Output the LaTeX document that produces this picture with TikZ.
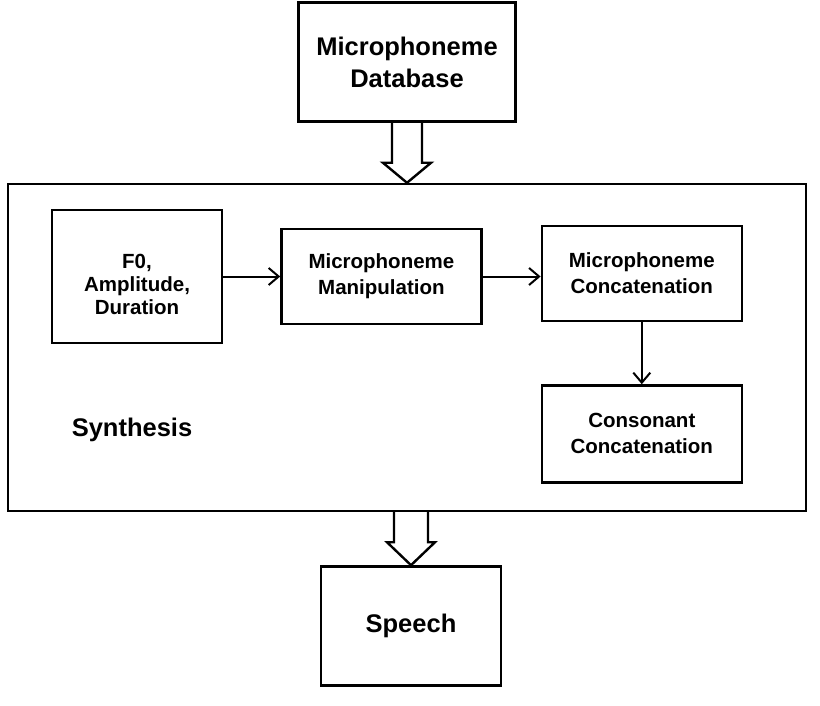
\documentclass[tikz,border=0pt]{standalone}
\usepackage{fontspec}
\setmainfont{Liberation Sans}
\usetikzlibrary{positioning,arrows.meta,calc}

\begin{document}
\begin{tikzpicture}[x=1pt,y=1pt]
		\tikzstyle{bigblock} = [rectangle, draw, line width = 2.4pt, align = center, inner sep = 0pt, font = \fontsize{25.5}{32}\selectfont\bfseries];
		\tikzstyle{subblock} = [rectangle, draw, line width = 2.4pt, align = center, inner sep = 0pt, minimum width = 200pt, minimum height = 95pt, font = \fontsize{20.5}{26}\selectfont\bfseries];
		\tikzstyle{flowpath} = [draw, line width = 2pt, -{Straight Barb[length = 10pt, width = 17pt, line width = 2pt]}];
		\tikzstyle{hollowarrow} = [draw, line width = 2.4pt, line join = miter];
		\useasboundingbox (0,0) rectangle (820,-706);
		\node (synth) at (407,-347.5) [bigblock, minimum width = 798pt, minimum height = 327pt] {};
		\node (db) [bigblock, above=60pt of synth, minimum width = 217pt, minimum height = 119pt] {Microphoneme\\Database};
		\node (speech) [bigblock, below=53pt of synth, xshift = 4pt, minimum width = 180pt, minimum height = 119pt] {Speech};
		\node (synthlabel) at (132,-430) [font = \fontsize{25.5}{32}\selectfont\bfseries] {Synthesis};
		\node (f0) at (137,-276.5) [subblock, minimum width = 170pt, minimum height = 133pt, text height = 77pt, font = \fontsize{20.5}{23}\selectfont\bfseries] {F0,\\Amplitude,\\Duration};
		\node (manip) [subblock, right=57pt of f0] {Microphoneme\\Manipulation};
		\node (mconcat) [subblock, right=58pt of manip, yshift = 3pt] {Microphoneme\\Concatenation};
		\node (cconcat) [subblock, below=62pt of mconcat, minimum height = 97pt] {Consonant\\Concatenation};
		\path [flowpath] (f0) -- (f0 -| manip.west);
		\path [flowpath] (manip.east) -- (manip.east -| mconcat.west);
		\path [flowpath] (mconcat) -- (cconcat);
		\draw [hollowarrow] ($(db.south)+(-15,0)$) -- ($(db.south |- synth.north)+(-15,20)$) -- ++(-9,0) -- (db.south |- synth.north) -- ++(24,20) -- ++(-9,0) -- ($(db.south)+(15,0)$);
		\draw [hollowarrow] ($(synth.south -| speech.north)+(-17,0)$) -- ($(speech.north)+(-17,23)$) -- ++(-7,0) -- (speech.north) -- ++(24,23) -- ++(-7,0) -- ($(synth.south -| speech.north)+(17,0)$);
	\end{tikzpicture}
\end{document}
